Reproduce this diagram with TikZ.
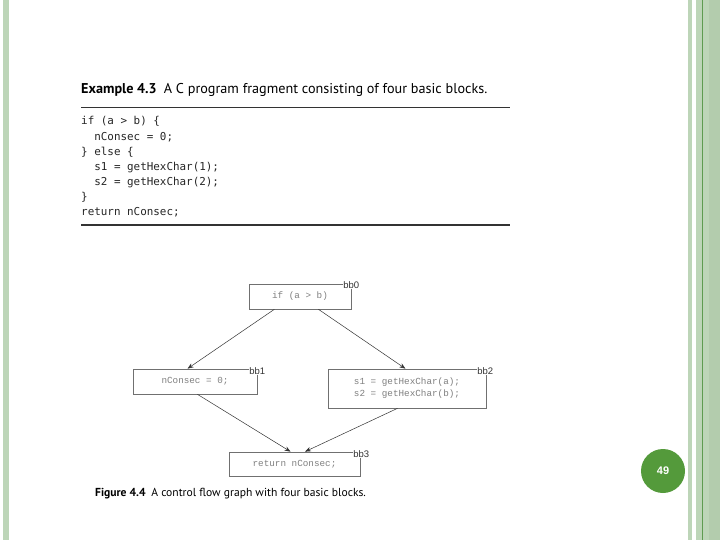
\documentclass[tikz,border=0pt]{standalone}
\usepackage{fontspec}
\usetikzlibrary{arrows.meta,calc}
\newfontfamily\titlefont{PT Sans}
\newfontfamily\codefont{DejaVu Sans Mono}
\newfontfamily\boxfont{Liberation Mono}
\newfontfamily\lblfont{Liberation Sans}
\definecolor{stripe}{HTML}{BDD5B8}
\definecolor{stripedark}{HTML}{B3CCAD}
\definecolor{stripeline}{HTML}{5E9B50}
\definecolor{pgnum}{HTML}{549A3B}
\definecolor{boxtext}{HTML}{808080}
\definecolor{boxline}{HTML}{707070}
\tikzset{
  cfgbox/.style={draw=boxline, line width=0.7pt, inner sep=0pt, align=center,
    font=\boxfont\fontsize{9.3}{12}\selectfont, text=boxtext},
  bblabel/.style={fill=white, inner sep=0.6pt, font=\lblfont\fontsize{9.5}{10}\selectfont, text=black!80},
  arr/.style={draw=black!80, line width=0.5pt, -{Stealth[length=6pt,width=4.5pt]}},
  codeline/.style={anchor=base west, inner sep=0pt, font=\codefont\fontsize{10.9}{12}\selectfont, text=black!85},
  rule/.style={line width=1.4pt, black!80},
}
\begin{document}
\begin{tikzpicture}[x=1pt,y=-1pt]
\useasboundingbox[fill=white] (0,0) rectangle (720,540);
% side stripes
\fill[stripe] (3,0) rectangle (9,540);
\fill[stripe] (688,0) rectangle (692,540);
\fill[stripe] (696,0) rectangle (720,540);
\fill[stripedark] (709,0) rectangle (720,540);
\fill[stripeline] (701.5,0) rectangle (703,540);
% title
\node[anchor=base west, inner sep=0pt, font=\titlefont\fontsize{14.2}{16}\selectfont] (title) at (81,94)
  {\textbf{Example 4.3}\hspace{0.5em}A C program fragment consisting of four basic blocks.};
\coordinate (r1a) at (81,107.3); \coordinate (r1b) at (510,107.3);
\coordinate (r2a) at (81,225); \coordinate (r2b) at (510,225);
\draw[rule] (r1a) -- (r1b);
\draw[rule] (r2a) -- (r2b);
% code
\node[codeline] (c1) at (81,125) {if (a > b) \{};
\node[codeline] (c2) at (81,140.1) {\ \ nConsec = 0;};
\node[codeline] (c3) at (81,155.2) {\} else \{};
\node[codeline] (c4) at (81,170.3) {\ \ s1 = getHexChar(1);};
\node[codeline] (c5) at (81,185.4) {\ \ s2 = getHexChar(2);};
\node[codeline] (c6) at (81,200.5) {\}};
\node[codeline] (c7) at (81,215.6) {return nConsec;};
% CFG boxes
\node[cfgbox, minimum width=102pt, minimum height=25pt] (bb0) at (300,296.5) {if (a > b)};
\node[cfgbox, minimum width=124pt, minimum height=25pt] (bb1) at (195,381.5) {nConsec = 0;};
\node[cfgbox, minimum width=158pt, minimum height=39pt] (bb2) at (407,388.5) {s1 = getHexChar(a);\\s2 = getHexChar(b);};
\node[cfgbox, minimum width=131pt, minimum height=24pt] (bb3) at (294.5,464) {return nConsec;};
\node[bblabel] (l0) at ([xshift=0pt,yshift=-1.5pt]bb0.north east) {bb0};
\node[bblabel] (l1) at ([xshift=0pt,yshift=-2.5pt]bb1.north east) {bb1};
\node[bblabel] (l2) at ([xshift=-1pt,yshift=-2.5pt]bb2.north east) {bb2};
\node[bblabel] (l3) at ([xshift=1pt,yshift=-2.5pt]bb3.north east) {bb3};
% edges
\draw[arr] ($(bb0.south west)!0.25!(bb0.south east)$) -- ($(bb1.north west)!0.44!(bb1.north east)$);
\draw[arr] ($(bb0.south west)!0.68!(bb0.south east)$) -- ($(bb2.north west)!0.49!(bb2.north east)$);
\draw[arr] ($(bb1.south west)!0.52!(bb1.south east)$) -- ($(bb3.north west)!0.47!(bb3.north east)$);
\draw[arr] ($(bb2.south west)!0.44!(bb2.south east)$) -- ($(bb3.north west)!0.58!(bb3.north east)$);
% caption
\node[anchor=base west, inner sep=0pt, font=\titlefont\fontsize{11.6}{13}\selectfont] (caption) at (95,496)
  {\textbf{Figure 4.4}\hspace{0.5em}A control flow graph with four basic blocks.};
% page number
\node[circle, fill=pgnum, minimum size=44pt, inner sep=0pt, text=white,
  font=\lblfont\bfseries\fontsize{11}{12}\selectfont] (pg) at (663,471) {49};
\end{tikzpicture}
\end{document}
